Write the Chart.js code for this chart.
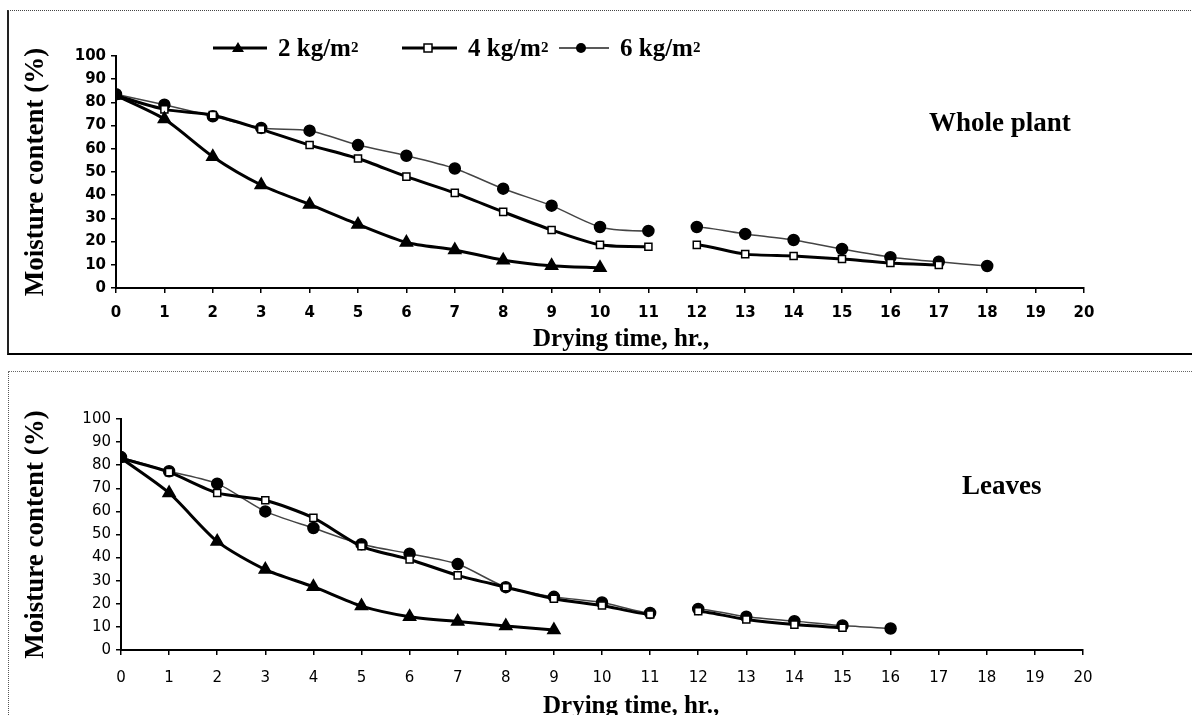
<!DOCTYPE html>
<html lang="en">
<head>
  <meta charset="UTF-8">
  <title>Moisture content vs drying time</title>
  <style>
    html, body { margin: 0; padding: 0; background: #fff; }
    body { width: 1192px; height: 715px; position: relative; overflow: hidden; font-family: "Liberation Serif", serif; }
    .box { position: absolute; box-sizing: border-box; }
    #box1 { left: 7px; top: 10px; width: 1200px; height: 345px; border-top: 1px dotted #444; border-left: 2px solid #222; border-bottom: 2px solid #000; }
    #box2 { left: 8px; top: 371px; width: 1200px; height: 360px; border-top: 1px dotted #666; border-left: 1px dotted #555; }
    canvas { position: absolute; left: 0; }
    #c1 { top: 0; }
    #c2 { top: 360px; }
    .lbl { position: absolute; font-weight: bold; color: #000; white-space: nowrap; line-height: 1; }
    .lbl sup { font-size: 60%; vertical-align: 0.75em; line-height: 0; }
    .leg { position: absolute; top: 34px; height: 26px; display: flex; align-items: center; font-size: 25px; }
    .leg svg { margin-right: 11px; }
  </style>
</head>
<body>
  <div class="box" id="box1"></div>
  <div class="box" id="box2"></div>
  <canvas id="c1" width="1192" height="360"></canvas>
  <canvas id="c2" width="1192" height="355"></canvas>

  <div class="leg lbl" style="left:213px;">
    <svg width="54" height="14"><line x1="0" y1="8" x2="54" y2="8" stroke="#000" stroke-width="3"/><polygon points="25,2 31,12 19,12" fill="#000"/></svg>2 kg/m<sup>2</sup>
  </div>
  <div class="leg lbl" style="left:402px;">
    <svg width="55" height="14"><line x1="0" y1="8" x2="55" y2="8" stroke="#000" stroke-width="3"/><rect x="22" y="4" width="8" height="8" fill="#fff" stroke="#000" stroke-width="1.5"/></svg>4 kg/m<sup>2</sup>
  </div>
  <div class="leg lbl" style="left:559px;">
    <svg width="50" height="14"><line x1="0" y1="8" x2="50" y2="8" stroke="#222" stroke-width="1.5"/><circle cx="22" cy="8" r="5" fill="#000"/></svg>6 kg/m<sup>2</sup>
  </div>

  <div class="lbl" style="left:929px; top:109px; font-size:27px;">Whole plant</div>
  <div class="lbl" style="left:962px; top:472px; font-size:27px;">Leaves</div>
  <div class="lbl" style="left:533px; top:325px; font-size:25px;">Drying time, hr.,</div>
  <div class="lbl" style="left:543px; top:692px; font-size:25px;">Drying time, hr.,</div>

  <script src="https://cdn.jsdelivr.net/npm/chart.js"></script>
  <script>
    // drying time (hours)
    const hours = [0, 1, 2, 3, 4, 5, 6, 7, 8, 9, 10, 11, 12, 13, 14, 15, 16, 17, 18];
    const gapAfter = 11; // no reading between hour 11 and 12

    // Whole plant, moisture content (%)
    const whole2 = [83, 72.8, 56.6, 44.4, 36, 27.4, 19.6, 16.4, 12, 9.6, 8.7];
    const whole4 = [83, 77, 74.5, 68.4, 61.6, 55.8, 48, 41, 32.8, 25, 18.6, 17.8, 18.6, 14.6, 13.8, 12.5, 10.8, 9.9];
    const whole6 = [83.5, 79, 74, 69, 67.8, 61.6, 57, 51.5, 42.8, 35.5, 26.3, 24.6, 26.3, 23.3, 20.7, 16.8, 13.3, 11.3, 9.5];

    // Leaves, moisture content (%)
    const leaves2 = [83.1, 68, 47, 34.8, 27.4, 19, 14.4, 12.3, 10.4, 8.7];
    const leaves4 = [83, 77, 68, 64.8, 57.2, 44.9, 39.2, 32.3, 27.2, 22.2, 19.3, 15.4, 16.8, 13.2, 11, 9.6];
    const leaves6 = [83.5, 77.4, 72, 60, 52.8, 45.8, 41.7, 37.2, 27.2, 23, 20.6, 16, 17.8, 14.4, 12.5, 10.6, 9.3];

    const seriesLabels = ['2 kg/m²', '4 kg/m²', '6 kg/m²'];

    const toPoints = vals => vals.map((v, i) => ({ x: hours[i], y: v }));
    const gapColor = color => ctx => ctx.p0.parsed.x === gapAfter ? 'rgba(0,0,0,0)' : color;

    function makeDatasets(s2, s4, s6) {
      return [
        {
          label: seriesLabels[0], data: toPoints(s2),
          borderColor: '#000', borderWidth: 3, tension: 0.25,
          pointStyle: 'triangle', pointRadius: 5.5, pointBackgroundColor: '#000', pointBorderColor: '#000',
          segment: { borderColor: gapColor('#000') }
        },
        {
          label: seriesLabels[1], data: toPoints(s4),
          borderColor: '#000', borderWidth: 3, tension: 0.25,
          pointStyle: 'rect', pointRadius: 5, pointBackgroundColor: '#fff', pointBorderColor: '#000', pointBorderWidth: 1.5,
          segment: { borderColor: gapColor('#000') }
        },
        {
          label: seriesLabels[2], data: toPoints(s6),
          borderColor: '#444', borderWidth: 1.5, tension: 0.25,
          pointStyle: 'circle', pointRadius: 5.5, pointBackgroundColor: '#000', pointBorderColor: '#000',
          segment: { borderColor: gapColor('#444') }
        }
      ];
    }

    function makeChart(id, datasets, cfg) {
      const tickFont = cfg.tickFont;
      return new Chart(document.getElementById(id), {
        type: 'line',
        data: { datasets: datasets },
        options: {
          responsive: false,
          animation: false,
          devicePixelRatio: 1,
          layout: { padding: cfg.padding },
          plugins: { legend: { display: false }, tooltip: { enabled: false } },
          scales: {
            x: {
              type: 'linear', min: 0, max: 20,
              grid: { drawOnChartArea: false, drawTicks: true, tickLength: 5, color: '#000', lineWidth: 1.5 },
              border: { color: '#000', width: 2 },
              ticks: { stepSize: 1, color: '#000', font: tickFont, padding: cfg.xPad, maxRotation: 0 },
              afterFit: s => { s.height = 40; }
            },
            y: {
              min: 0, max: 100,
              grid: { drawOnChartArea: false, drawTicks: true, tickLength: 5, color: '#000', lineWidth: 1.5 },
              border: { color: '#000', width: 2 },
              ticks: { stepSize: 10, color: '#000', font: tickFont, padding: 5 },
              title: {
                display: true, text: 'Moisture content (%)', color: '#000',
                font: { family: 'Liberation Serif', size: 27, weight: 'bold' },
                padding: { top: cfg.titlePad, bottom: 0 }
              },
              afterFit: s => { s.width = cfg.yWidth; }
            }
          }
        }
      });
    }

    makeChart('c1', makeDatasets(whole2, whole4, whole6), {
      padding: { top: 56, right: 108, bottom: 32, left: 0 },
      yWidth: 116, titlePad: 20, xPad: 11,
      tickFont: { family: 'DejaVu Sans', size: 15, weight: 'bold' }
    });

    makeChart('c2', makeDatasets(leaves2, leaves4, leaves6), {
      padding: { top: 59, right: 109, bottom: 25, left: 0 },
      yWidth: 121, titlePad: 20, xPad: 14,
      tickFont: { family: 'DejaVu Sans', size: 15 }
    });
  </script>
</body>
</html>
